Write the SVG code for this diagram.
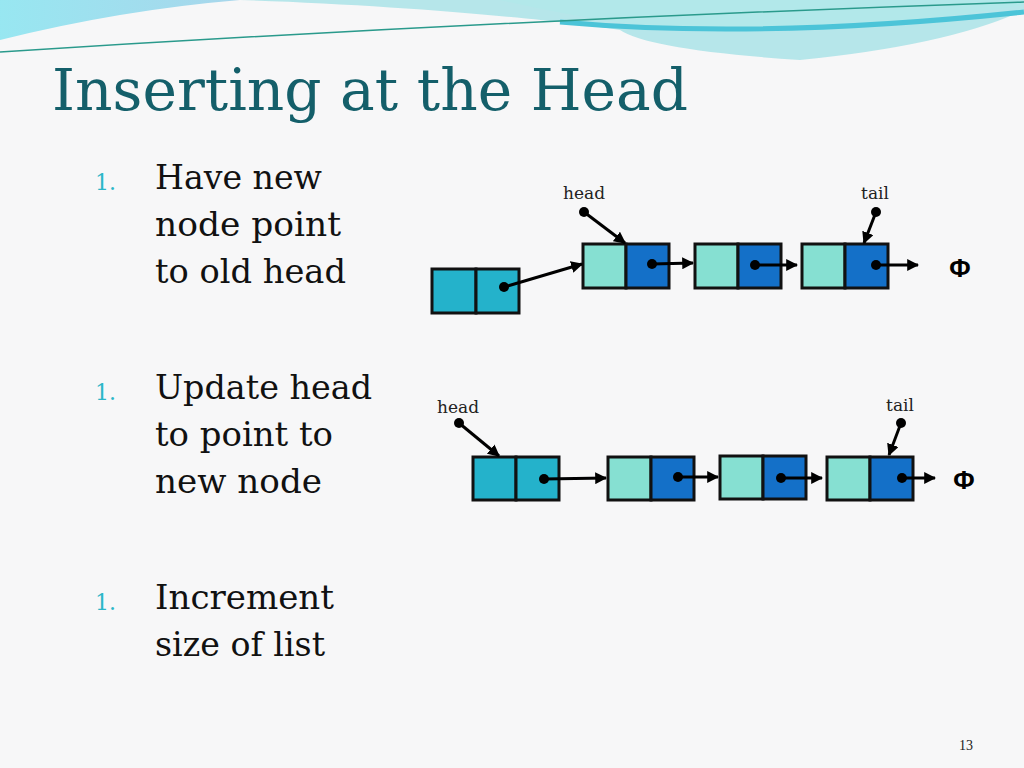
<svg xmlns="http://www.w3.org/2000/svg" width="1024" height="768" viewBox="0 0 1024 768">
<defs>
<marker id="ah" viewBox="0 0 10 10" refX="9" refY="5" markerWidth="4" markerHeight="4" orient="auto"><path d="M0,0 L10,5 L0,10 z" fill="#000"/></marker>
<linearGradient id="sw" x1="0" y1="0" x2="1" y2="0"><stop offset="0" stop-color="#6fe0ee"/><stop offset="1" stop-color="#86c8e6"/></linearGradient>
</defs>
<style>
.c{stroke:#111;stroke-width:3}
.nn{fill:#24b2cb}.lt{fill:#86e0d2}.dk{fill:#1470c8}
.ln{stroke:#000;stroke-width:3;fill:none;marker-end:url(#ah)}
.dot{fill:#000}
.lbl{font-family:"DejaVu Serif",serif;font-size:17px;fill:#222}
.bt{font-family:"DejaVu Serif",serif;font-size:34px;fill:#111}
.num{font-family:"DejaVu Serif",serif;font-size:22px;fill:#2ab6c8}
.phi{font-family:"Liberation Sans",sans-serif;font-size:26px;font-weight:bold;fill:#000}
</style>
<rect width="1024" height="768" fill="#f7f7f8"/>
<path d="M0,0 H240 Q120,10 0,40 Z" fill="url(#sw)" opacity="0.7"/>
<path d="M240,0 C400,5 560,20 620,30 Q650,50 800,60 Q950,45 1024,10 V0 Z" fill="#a5e1e6" opacity="0.8"/>
<path d="M500,0 Q650,35 760,30 Q900,25 1024,5 V0 Z" fill="#b2e8ea"/>
<path d="M560,22 Q760,40 1024,12" stroke="#4cc4d8" stroke-width="5" fill="none"/>
<path d="M0,52 Q500,20 1024,2" stroke="#2a9a8c" stroke-width="1.5" fill="none"/>
<text x="52" y="110" font-family="DejaVu Serif,serif" font-size="58" fill="#145f6a" textLength="636" lengthAdjust="spacingAndGlyphs">Inserting at the Head</text>
<g id="bullets">
<text class="num" x="95" y="190">1.</text>
<text class="bt" x="155" y="189" textLength="167" lengthAdjust="spacingAndGlyphs">Have new</text>
<text class="bt" x="155" y="236" textLength="186" lengthAdjust="spacingAndGlyphs">node point</text>
<text class="bt" x="155" y="283" textLength="191" lengthAdjust="spacingAndGlyphs">to old head</text>
<text class="num" x="95" y="400">1.</text>
<text class="bt" x="155" y="399" textLength="217" lengthAdjust="spacingAndGlyphs">Update head</text>
<text class="bt" x="155" y="446" textLength="178" lengthAdjust="spacingAndGlyphs">to point to</text>
<text class="bt" x="155" y="493" textLength="167" lengthAdjust="spacingAndGlyphs">new node</text>
<text class="num" x="95" y="610">1.</text>
<text class="bt" x="155" y="609" textLength="179" lengthAdjust="spacingAndGlyphs">Increment</text>
<text class="bt" x="155" y="656" textLength="170" lengthAdjust="spacingAndGlyphs">size of list</text>
</g>
<g id="n_new"><rect class="nn c" x="432" y="269" width="44" height="44"/><rect class="nn c" x="476" y="269" width="43" height="44"/></g>
<g id="n_a"><rect class="lt c" x="583" y="244" width="43" height="44"/><rect class="dk c" x="626" y="244" width="43" height="44"/></g>
<g id="n_b"><rect class="lt c" x="695" y="244" width="43" height="44"/><rect class="dk c" x="738" y="244" width="43" height="44"/></g>
<g id="n_c"><rect class="lt c" x="802" y="244" width="43" height="44"/><rect class="dk c" x="845" y="244" width="43" height="44"/></g>
<g id="n2_0"><rect class="nn c" x="473" y="457" width="43" height="43"/><rect class="nn c" x="516" y="457" width="43" height="43"/></g>
<g id="n2_1"><rect class="lt c" x="608" y="457" width="43" height="43"/><rect class="dk c" x="651" y="457" width="43" height="43"/></g>
<g id="n2_2"><rect class="lt c" x="720" y="456" width="43" height="43"/><rect class="dk c" x="763" y="456" width="43" height="43"/></g>
<g id="n2_3"><rect class="lt c" x="827" y="457" width="43" height="43"/><rect class="dk c" x="870" y="457" width="43" height="43"/></g>
<g id="labels">
<text class="lbl" x="584" y="199" text-anchor="middle">head</text>
<text class="lbl" x="875" y="199" text-anchor="middle">tail</text>
<text class="lbl" x="458" y="413" text-anchor="middle">head</text>
<text class="lbl" x="900" y="411" text-anchor="middle">tail</text>
<text class="phi" x="960" y="277" text-anchor="middle">Φ</text>
<text class="phi" x="964" y="489" text-anchor="middle">Φ</text>
</g>
<g id="connectors">
<circle class="dot" cx="504" cy="287" r="5"/><line class="ln" x1="504" y1="287" x2="582" y2="264"/>
<circle class="dot" cx="652" cy="264" r="5"/><line class="ln" x1="652" y1="264" x2="693" y2="263"/>
<circle class="dot" cx="755" cy="265" r="5"/><line class="ln" x1="755" y1="265" x2="797" y2="265"/>
<circle class="dot" cx="876" cy="265" r="5"/><line class="ln" x1="876" y1="265" x2="918" y2="265"/>
<circle class="dot" cx="584" cy="212" r="5"/><line class="ln" x1="584" y1="212" x2="625" y2="243"/>
<circle class="dot" cx="876" cy="212" r="5"/><line class="ln" x1="876" y1="212" x2="864" y2="243"/>
<circle class="dot" cx="544" cy="479" r="5"/><line class="ln" x1="544" y1="479" x2="606" y2="478"/>
<circle class="dot" cx="678" cy="477" r="5"/><line class="ln" x1="678" y1="477" x2="718" y2="477"/>
<circle class="dot" cx="781" cy="478" r="5"/><line class="ln" x1="781" y1="478" x2="822" y2="478"/>
<circle class="dot" cx="902" cy="478" r="5"/><line class="ln" x1="902" y1="478" x2="935" y2="478"/>
<circle class="dot" cx="459" cy="423" r="5"/><line class="ln" x1="459" y1="423" x2="499" y2="456"/>
<circle class="dot" cx="901" cy="423" r="5"/><line class="ln" x1="901" y1="423" x2="889" y2="455"/>
</g>
<text x="966" y="750" text-anchor="middle" font-family="Liberation Serif,serif" font-size="14" fill="#222">13</text>
</svg>
